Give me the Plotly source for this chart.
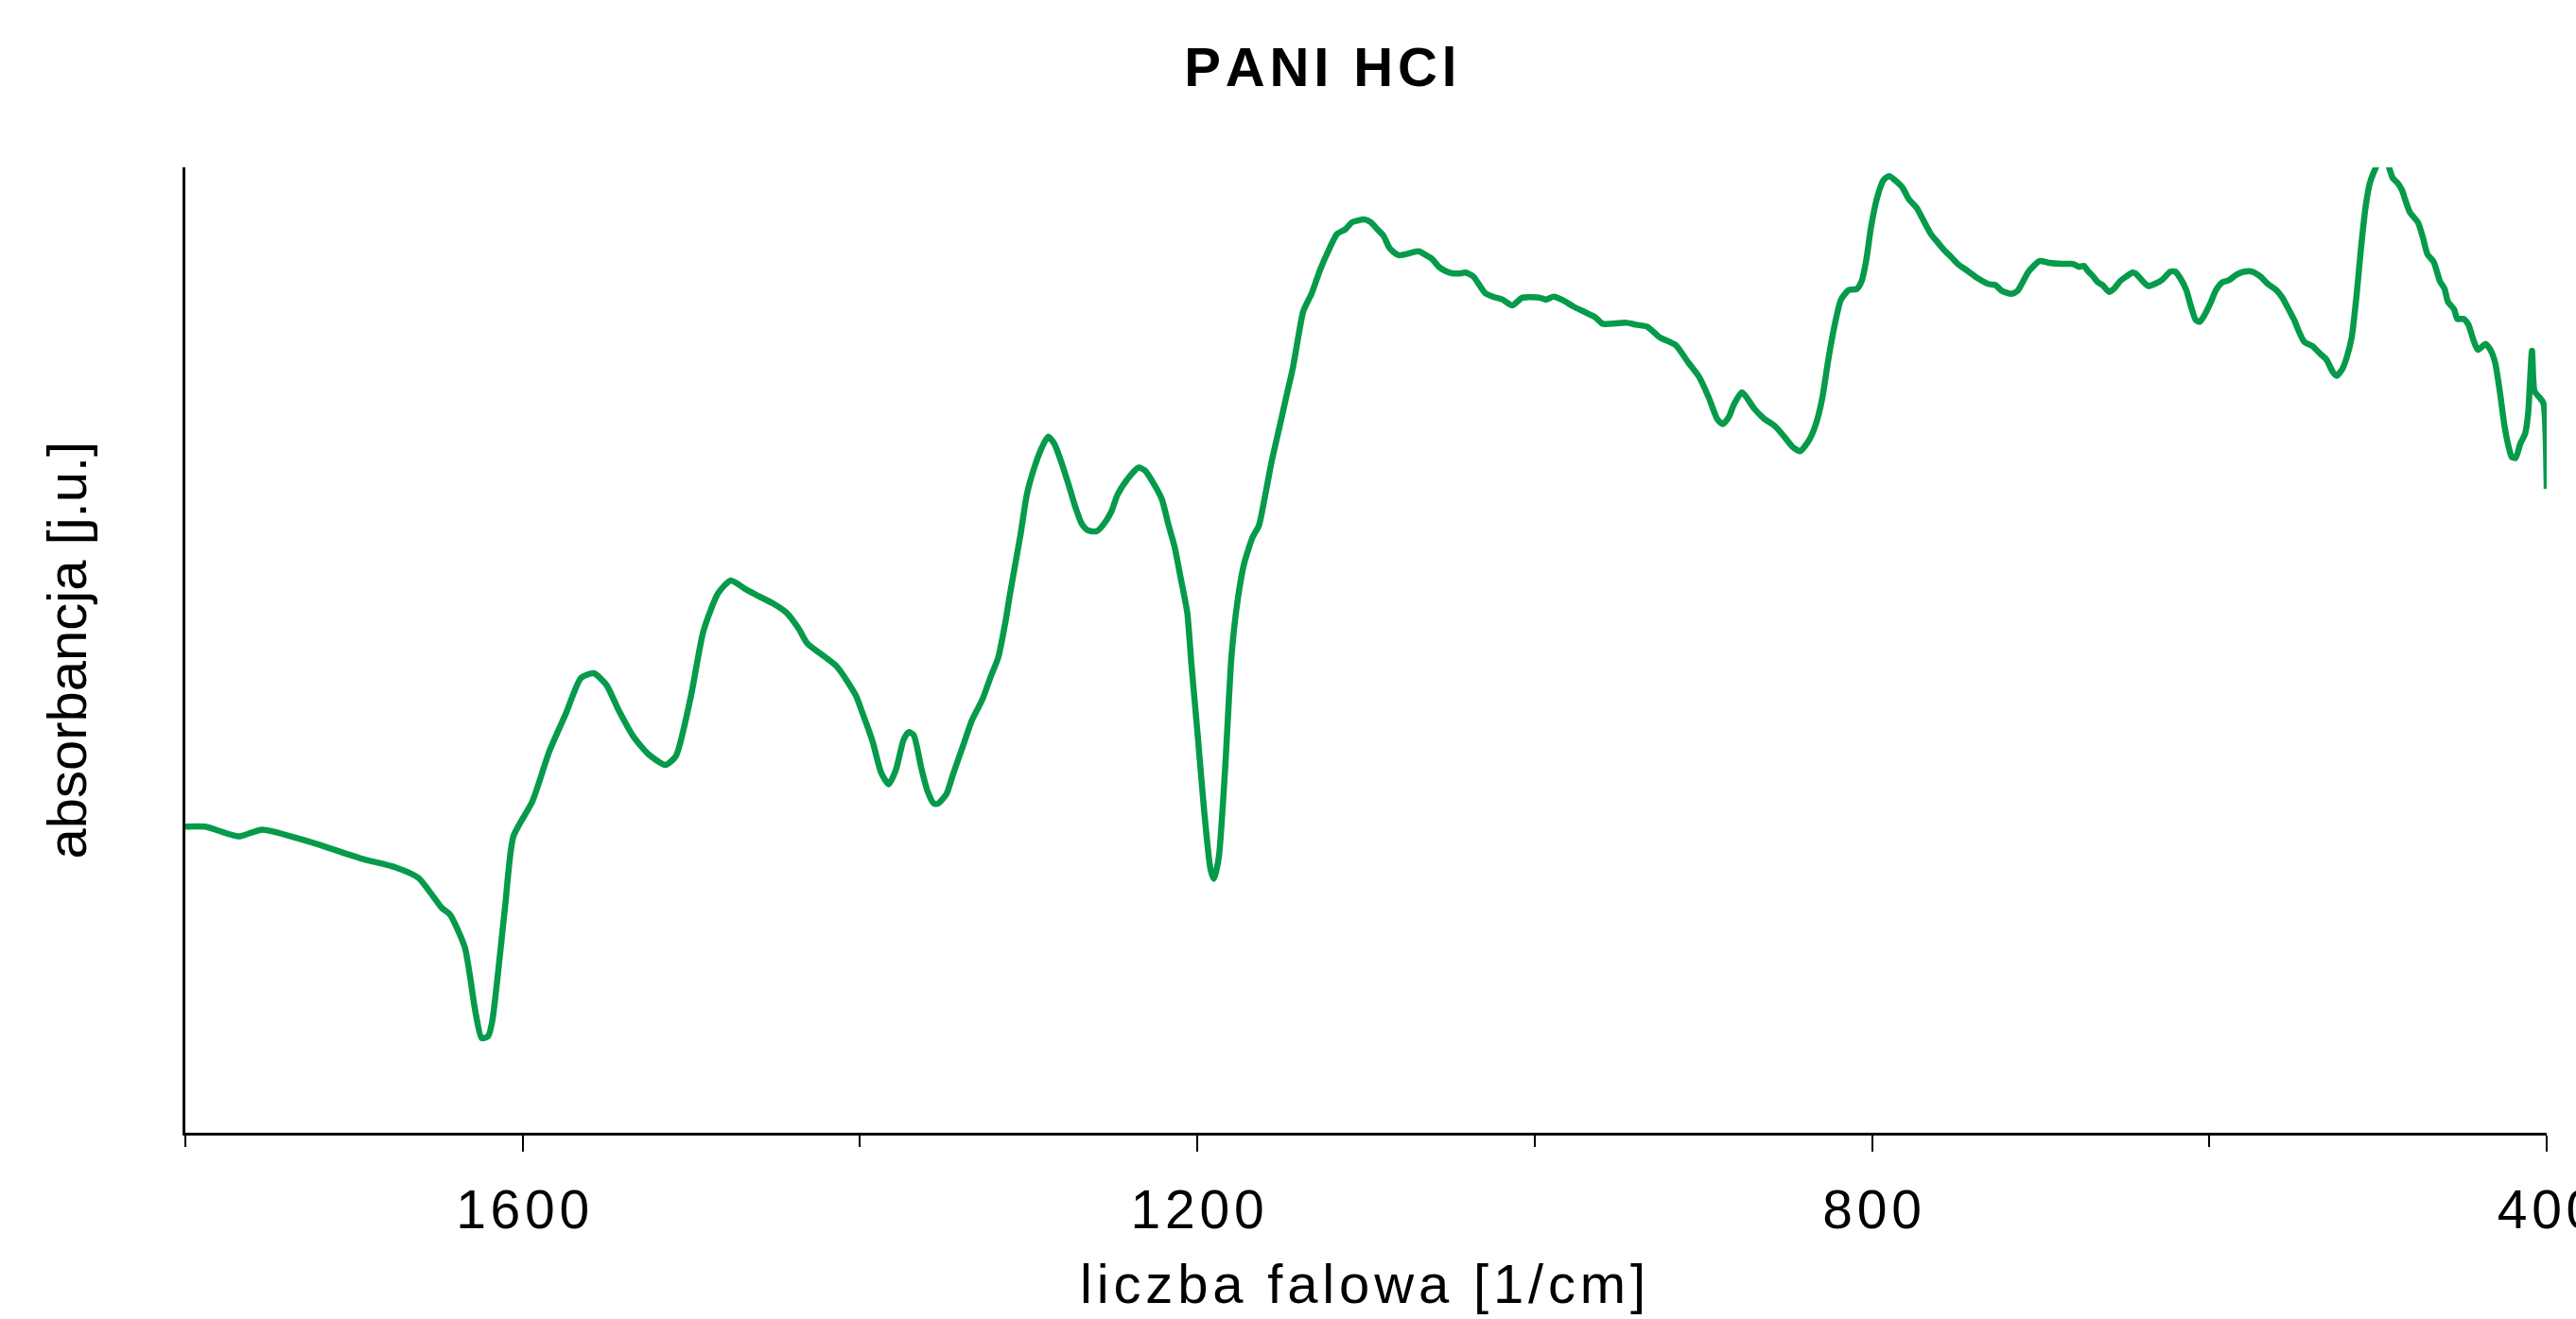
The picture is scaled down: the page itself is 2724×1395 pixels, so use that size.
import plotly.graph_objects as go

# ---- data (wavenumber in 1/cm, absorbance in arbitrary units) ----
wavenumber = [1800.0, 1788.2, 1768.2, 1754.5, 1725.6, 1695.7, 1675.6, 1661.8, 1648.0, 1643.1,
              1634.3, 1628.0, 1624.3, 1620.5, 1618.0, 1610.5, 1605.5, 1594.3, 1584.2, 1574.2,
              1565.5, 1557.9, 1550.4, 1542.9, 1534.2, 1525.4, 1515.4, 1509.2, 1500.4, 1492.8,
              1484.1, 1476.6, 1467.8, 1460.3, 1451.3, 1443.8, 1436.3, 1431.3, 1413.8, 1402.5,
              1398.8, 1392.5, 1387.5, 1383.0, 1378.7, 1374.2, 1371.2, 1368.2, 1363.7, 1360.0,
              1356.2, 1353.7, 1348.7, 1344.9, 1338.7, 1333.7, 1327.4, 1322.4, 1318.1, 1313.6,
              1311.1, 1304.9, 1301.1, 1297.4, 1292.4, 1288.6, 1284.9, 1281.1, 1276.1, 1272.3,
              1268.6, 1264.9, 1259.8, 1256.1, 1251.1, 1247.3, 1241.0, 1234.8, 1231.1, 1226.1,
              1221.0, 1217.3, 1213.5, 1209.7, 1206.0, 1203.5, 1199.8, 1196.0, 1192.2, 1190.2,
              1187.3, 1183.5, 1179.7, 1176.0, 1172.2, 1167.2, 1163.5, 1159.7, 1156.0, 1150.9,
              1147.2, 1143.4, 1139.7, 1137.2, 1132.1, 1127.2, 1122.2, 1117.2, 1112.1, 1108.4,
              1100.8, 1097.1, 1093.4, 1089.6, 1085.9, 1080.6, 1068.9, 1064.4, 1060.8, 1056.2,
              1050.4, 1044.6, 1041.1, 1036.4, 1029.5, 1024.8, 1019.0, 1013.2, 1007.4, 996.9,
              993.4, 988.8, 982.9, 977.2, 970.2, 964.3, 959.7, 955.1, 945.5, 939.9,
              933.3, 925.9, 916.5, 909.0, 902.5, 896.9, 891.7, 888.5, 884.7, 882.0,
              877.2, 874.5, 869.8, 864.2, 857.6, 852.0, 847.4, 842.7, 837.1, 833.3,
              829.6, 825.9, 822.1, 818.4, 813.7, 809.1, 806.2, 803.4, 800.6, 796.9,
              793.1, 789.8, 786.6, 781.9, 778.2, 773.5, 769.8, 765.1, 761.4, 757.6,
              753.0, 749.2, 742.7, 738.0, 730.6, 726.8, 723.0, 717.4, 713.7, 707.2,
              700.6, 695.0, 687.6, 681.0, 677.3, 674.5, 671.7, 668.9, 666.1, 663.3,
              659.5, 656.7, 653.0, 649.2, 645.5, 643.7, 638.9, 636.1, 631.5, 627.7,
              623.1, 620.3, 617.5, 613.7, 610.9, 608.1, 605.7, 603.5, 599.7, 596.0,
              592.2, 588.5, 583.8, 579.2, 574.5, 569.8, 565.2, 560.4, 556.7, 553.0,
              549.2, 547.4, 543.6, 539.0, 534.3, 530.6, 526.8, 524.6, 521.2, 518.4,
              515.6, 512.8, 510.0, 507.2, 504.8, 502.5, 499.7, 496.9, 494.1, 491.3,
              488.5, 485.7, 483.8, 481.0, 476.3, 473.5, 470.7, 467.0, 463.3, 460.5,
              458.6, 454.9, 453.0, 449.3, 446.4, 443.6, 440.8, 436.2, 433.4, 430.6,
              427.8, 425.0, 422.2, 420.7, 418.4, 415.6, 412.8, 411.0, 408.7, 407.2,
              404.4, 402.0, 400.0]

absorbance = [0.317, 0.317, 0.307, 0.314, 0.301, 0.284, 0.275, 0.264, 0.233, 0.226,
              0.192, 0.125, 0.098, 0.100, 0.116, 0.233, 0.307, 0.343, 0.395, 0.435,
              0.471, 0.476, 0.464, 0.437, 0.410, 0.392, 0.381, 0.390, 0.451, 0.520,
              0.559, 0.572, 0.563, 0.556, 0.548, 0.539, 0.522, 0.507, 0.483, 0.453,
              0.436, 0.405, 0.373, 0.361, 0.376, 0.407, 0.415, 0.412, 0.378, 0.354,
              0.341, 0.341, 0.351, 0.371, 0.402, 0.427, 0.449, 0.473, 0.492, 0.531,
              0.558, 0.619, 0.661, 0.685, 0.709, 0.721, 0.714, 0.697, 0.670, 0.648,
              0.631, 0.624, 0.623, 0.629, 0.643, 0.661, 0.678, 0.689, 0.686, 0.673,
              0.656, 0.631, 0.607, 0.573, 0.539, 0.485, 0.412, 0.334, 0.273, 0.263,
              0.285, 0.378, 0.495, 0.553, 0.590, 0.617, 0.629, 0.661, 0.695, 0.734,
              0.763, 0.792, 0.829, 0.851, 0.870, 0.894, 0.914, 0.931, 0.936, 0.943,
              0.946, 0.943, 0.936, 0.929, 0.916, 0.909, 0.913, 0.909, 0.905, 0.896,
              0.891, 0.890, 0.891, 0.887, 0.870, 0.866, 0.863, 0.857, 0.865, 0.865,
              0.863, 0.866, 0.862, 0.856, 0.850, 0.845, 0.838, 0.838, 0.839, 0.837,
              0.835, 0.824, 0.816, 0.798, 0.783, 0.762, 0.739, 0.734, 0.742, 0.754,
              0.767, 0.762, 0.750, 0.740, 0.732, 0.721, 0.711, 0.706, 0.718, 0.734,
              0.760, 0.801, 0.837, 0.863, 0.873, 0.874, 0.882, 0.904, 0.938, 0.969,
              0.987, 0.991, 0.987, 0.979, 0.967, 0.958, 0.946, 0.931, 0.923, 0.915,
              0.907, 0.900, 0.892, 0.886, 0.879, 0.878, 0.872, 0.869, 0.872, 0.892,
              0.903, 0.901, 0.900, 0.900, 0.897, 0.898, 0.892, 0.887, 0.881, 0.878,
              0.871, 0.874, 0.882, 0.887, 0.891, 0.890, 0.881, 0.877, 0.880, 0.884,
              0.892, 0.892, 0.886, 0.873, 0.856, 0.842, 0.840, 0.845, 0.858, 0.873,
              0.881, 0.883, 0.889, 0.892, 0.892, 0.887, 0.879, 0.873, 0.865, 0.853,
              0.840, 0.832, 0.819, 0.815, 0.807, 0.801, 0.788, 0.784, 0.791, 0.804,
              0.824, 0.866, 0.918, 0.961, 0.984, 0.995, 1.005, 1.010, 1.003, 0.989,
              0.984, 0.976, 0.966, 0.953, 0.943, 0.928, 0.910, 0.902, 0.882, 0.874,
              0.861, 0.853, 0.843, 0.843, 0.837, 0.822, 0.811, 0.817, 0.811, 0.798,
              0.768, 0.732, 0.708, 0.700, 0.699, 0.714, 0.724, 0.745, 0.810, 0.768,
              0.762, 0.756, 0.667]

major_ticks = [1600, 1200, 800, 400]
major_labels = ["1600", "1200", "800", "400"]
minor_ticks = [1800, 1400, 1000, 600]

title_text = "PANI HCl"
x_title = "liczba falowa [1/cm]"
y_title = "absorbancja [j.u.]"

HAIR = "\u200a"


def spaced(s):
    """Letter-spaced rendering of a label (the reference uses tracked text)."""
    return HAIR.join(list(s))


n = min(len(wavenumber), len(absorbance))

fig = go.Figure()
fig.add_trace(go.Scatter(
    x=wavenumber[:n], y=absorbance[:n], mode="lines",
    line=dict(color="#069a4b", width=6.5, shape="spline", smoothing=0.6),
    showlegend=False, hoverinfo="skip",
))

FONT = "Liberation Sans, Arial, sans-serif"

fig.update_layout(
    template="none",
    width=2724, height=1395,
    margin=dict(l=196, r=31, t=177, b=197, pad=0),
    paper_bgcolor="white", plot_bgcolor="white",
    showlegend=False,
    title=dict(
        text="<b>" + spaced(title_text) + "</b>",
        font=dict(family=FONT, size=58, color="black"),
        x=1396.5 / 2724, xref="container", xanchor="center",
        y=1 - 71.0 / 1395, yref="container", yanchor="middle",
    ),
    xaxis=dict(
        range=[1800, 400], autorange=False,
        showline=True, linecolor="black", linewidth=3,
        showgrid=False, zeroline=False,
        tickmode="array", tickvals=major_ticks,
        ticktext=[spaced(t) for t in major_labels],
        ticks="outside", ticklen=17, tickwidth=2, tickcolor="black",
        tickfont=dict(family=FONT, size=57, color="black"),
        ticklabelstandoff=13,
        ticklabeloverflow="allow",
        minor=dict(tickmode="array", tickvals=minor_ticks, ticks="outside",
                   ticklen=12, tickwidth=2, tickcolor="black", showgrid=False),
        automargin=False,
    ),
    yaxis=dict(
        range=[0, 1.0], autorange=False,
        showline=True, linecolor="black", linewidth=3,
        showgrid=False, zeroline=False,
        showticklabels=False, ticks="",
        automargin=False,
    ),
    annotations=[
        dict(text=spaced(x_title), xref="paper", yref="paper",
             x=(1441 - 196) / 2497, y=(1198 - 1357.0) / 1021,
             xanchor="center", yanchor="middle", showarrow=False,
             font=dict(family=FONT, size=58, color="black")),
        dict(text=y_title, xref="paper", yref="paper",
             x=(70 - 196) / 2497, y=0.5, textangle=-90,
             xanchor="center", yanchor="middle", showarrow=False,
             font=dict(family=FONT, size=58, color="black")),
    ],
)

fig.write_html("out.html")
